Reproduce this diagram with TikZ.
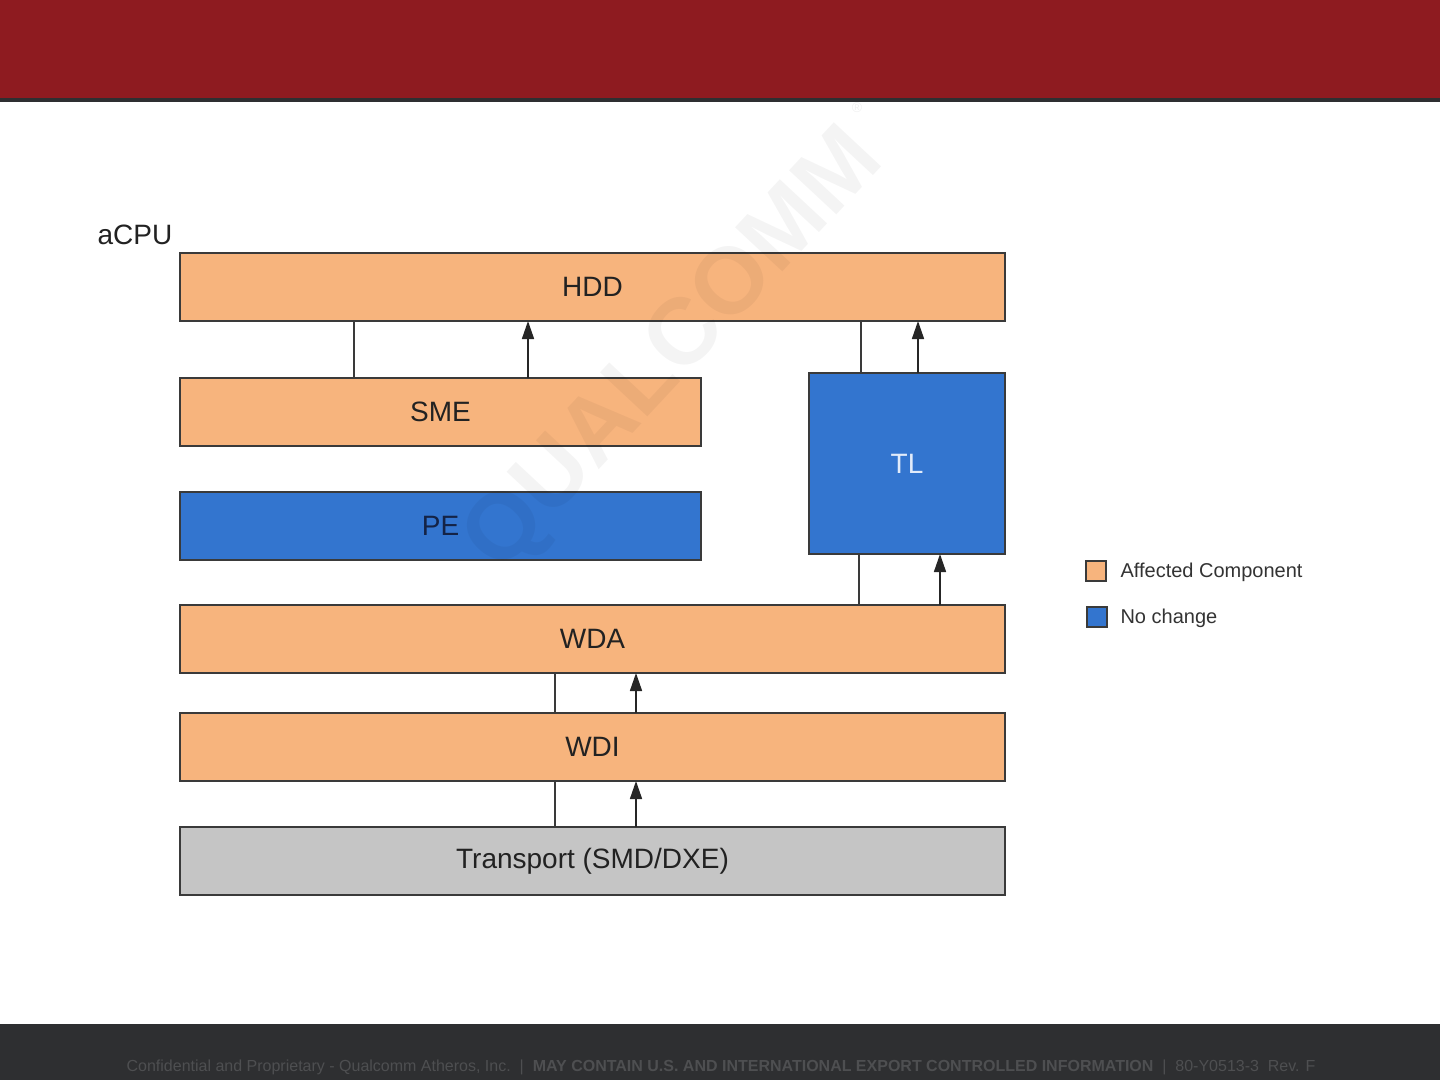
\documentclass[tikz,border=0pt]{standalone}
\usepackage{fontspec}
\setmainfont{Liberation Sans}
\usetikzlibrary{arrows.meta,calc}
\definecolor{bandred}{RGB}{142,27,32}
\definecolor{darkbar}{RGB}{46,47,49}
\definecolor{footertext}{RGB}{78,79,81}
\definecolor{orangefill}{RGB}{247,180,125}
\definecolor{bluefill}{RGB}{51,117,207}
\definecolor{greyfill}{RGB}{197,197,197}
\definecolor{edgecol}{RGB}{58,58,58}
\definecolor{textdark}{RGB}{34,34,34}
\tikzset{
  layer/.style={draw=edgecol, line width=2pt, inner sep=0pt, outer sep=0pt, font=\fontsize{28}{30}\selectfont, text=textdark},
  obox/.style={layer, fill=orangefill},
  bbox/.style={layer, fill=bluefill},
  gbox/.style={layer, fill=greyfill},
  plain/.style={draw=edgecol, line width=1.6pt},
  uparrow/.style={draw=black!85, line width=1.6pt, -{Triangle[length=18pt,width=12pt]}},
  legsq/.style={draw=edgecol, line width=1.5pt, minimum size=20pt, inner sep=0pt},
  legtext/.style={anchor=west, font=\fontsize{20}{22}\selectfont, text=black!80}
}
\begin{document}
\begin{tikzpicture}[x=1pt,y=-1pt]
\useasboundingbox (0,0) rectangle (1440,1080);
% header band
\fill[bandred] (0,0) rectangle (1440,98);
\fill[darkbar] (0,98) rectangle (1440,102);
% footer
\fill[darkbar] (0,1024) rectangle (1440,1080);
\node[text=footertext, font=\fontsize{16}{18}\selectfont] (footer) at (721,1067)
  {Confidential and Proprietary - Qualcomm Atheros, Inc.\ \ \textbar\ \ \textbf{MAY CONTAIN U.S. AND INTERNATIONAL EXPORT CONTROLLED INFORMATION}\ \ \textbar\ \ 80-Y0513-3\ \ Rev. F};

% layers
\node[obox, minimum width=825pt, minimum height=68pt] (hdd) at (592.5,287) {HDD};
\node[obox, minimum width=521pt, minimum height=68pt] (sme) at (440.5,412) {SME};
\node[bbox, minimum width=521pt, minimum height=68pt, text={rgb,255:red,20;green,35;blue,70}] (pe) at (440.5,526) {PE};
\node[bbox, minimum width=196pt, minimum height=181pt, text={rgb,255:red,225;green,235;blue,250}] (tl) at (907,463.5) {TL};
\node[obox, minimum width=825pt, minimum height=68pt] (wda) at (592.5,639) {WDA};
\node[obox, minimum width=825pt, minimum height=68pt] (wdi) at (592.5,747) {WDI};
\node[gbox, minimum width=825pt, minimum height=68pt] (tr) at (592.5,861) {Transport (SMD/DXE)};

\node[anchor=center, font=\fontsize{28}{30}\selectfont, text=textdark] (acpu) at (135,235) {aCPU};

% connectors
\draw[plain] (354,0 |- sme.north) -- (354,0 |- hdd.south);
\draw[uparrow] (528,0 |- sme.north) -- (528,0 |- hdd.south);
\draw[plain] (861,0 |- tl.north) -- (861,0 |- hdd.south);
\draw[uparrow] (918,0 |- tl.north) -- (918,0 |- hdd.south);
\draw[plain] (859,0 |- wda.north) -- (859,0 |- tl.south);
\draw[uparrow] (940,0 |- wda.north) -- (940,0 |- tl.south);
\draw[plain] (555,0 |- wdi.north) -- (555,0 |- wda.south);
\draw[uparrow] (636,0 |- wdi.north) -- (636,0 |- wda.south);
\draw[plain] (555,0 |- tr.north) -- (555,0 |- wdi.south);
\draw[uparrow] (636,0 |- tr.north) -- (636,0 |- wdi.south);

% legend
\node[legsq, fill=orangefill] (lega) at (1096,571) {};
\node[legtext] (legatext) at (1117,572) {Affected Component};
\node[legsq, fill=bluefill] (legb) at (1097,617) {};
\node[legtext] (legbtext) at (1117,618) {No change};

% watermark (faint, over the diagram as in the reference)
\node[rotate=47, font=\fontsize{94}{94}\selectfont\bfseries, text=black, opacity=0.045] (wm) at (676,352) {QUALCOMM};
\node[font=\fontsize{14}{14}\selectfont, text=black, opacity=0.06] (wmr) at (857,108) {\textregistered};
\end{tikzpicture}
\end{document}
